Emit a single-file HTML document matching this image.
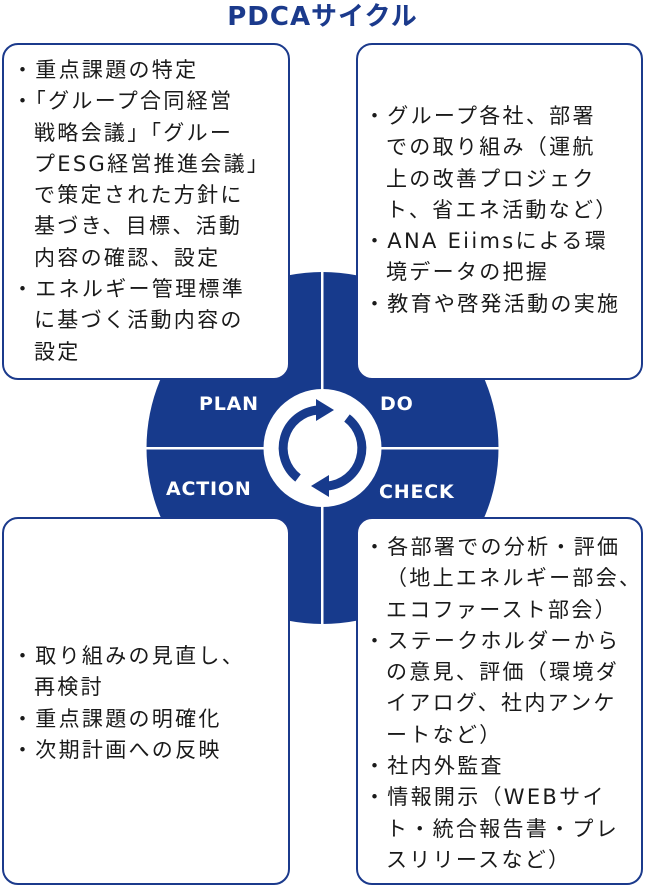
<!DOCTYPE html>
<html><head><meta charset="utf-8"><style>
html,body{margin:0;padding:0;width:645px;height:887px;background:#fff;overflow:hidden;position:relative;}
.box{position:absolute;background:#fff;border:2px solid #1b3a8c;border-radius:16px;box-sizing:border-box;}
.t{position:absolute;font-family:"DejaVu Sans","Noto Sans CJK JP",sans-serif;font-size:21px;letter-spacing:2.3px;line-height:31.3px;color:#1a1a1a;white-space:nowrap;}
.t div{padding-left:22px;text-indent:-22px;}
.lab{position:absolute;font-family:"DejaVu Sans",sans-serif;font-weight:bold;font-size:19px;color:#fff;letter-spacing:0.8px;}
</style></head><body>
<div style="position:absolute;left:0;width:645px;top:-4px;text-align:center;font-family:'DejaVu Sans','Noto Sans CJK JP',sans-serif;font-weight:bold;font-size:26px;color:#1b3a8c;letter-spacing:1px;">PDCAサイクル</div>
<svg style="position:absolute;left:0;top:0" width="645" height="887">
<circle cx="322.5" cy="448" r="176" fill="#173a8c"/>
<rect x="321" y="260" width="2.5" height="380" fill="#fff"/>
<rect x="140" y="447" width="370" height="2.5" fill="#fff"/>
<circle cx="322.5" cy="448" r="59" fill="#fff"/>
<g fill="none" stroke="#173a8c" stroke-width="9">
<path d="M298 478 A38 38 0 0 1 318 410"/>
<path d="M347 418 A38 38 0 0 1 327 486"/>
</g>
<polygon points="316,399 334,410 316,421" fill="#173a8c"/>
<polygon points="329,475 311,486 329,497" fill="#173a8c"/>
</svg>
<div class="box" style="left:2px;top:43px;width:288px;height:337px"></div>
<div class="box" style="left:356px;top:43px;width:287px;height:337px"></div>
<div class="box" style="left:2px;top:517px;width:288px;height:368px"></div>
<div class="box" style="left:356px;top:517px;width:287px;height:368px"></div>
<div class="lab" style="left:199px;top:393px">PLAN</div>
<div class="lab" style="left:380px;top:393px">DO</div>
<div class="lab" style="left:166px;top:478px">ACTION</div>
<div class="lab" style="left:379px;top:481px">CHECK</div>
<div class="t" style="left:12px;top:55px">
<div>・重点課題の特定</div>
<div>・「グループ合同経営<br>戦略会議」「グルー<br>プESG経営推進会議」<br>で策定された方針に<br>基づき、目標、活動<br>内容の確認、設定</div>
<div>・エネルギー管理標準<br>に基づく活動内容の<br>設定</div>
</div>
<div class="t" style="left:364px;top:101px">
<div>・グループ各社、部署<br>での取り組み（運航<br>上の改善プロジェク<br>ト、省エネ活動など）</div>
<div>・ANA Eiimsによる環<br>境データの把握</div>
<div>・教育や啓発活動の実施</div>
</div>
<div class="t" style="left:12px;top:641px">
<div>・取り組みの見直し、<br>再検討</div>
<div>・重点課題の明確化</div>
<div>・次期計画への反映</div>
</div>
<div class="t" style="left:364px;top:532px">
<div>・各部署での分析・評価<br>（地上エネルギー部会、<br>エコファースト部会）</div>
<div>・ステークホルダーから<br>の意見、評価（環境ダ<br>イアログ、社内アンケ<br>ートなど）</div>
<div>・社内外監査</div>
<div>・情報開示（WEBサイ<br>ト・統合報告書・プレ<br>スリリースなど）</div>
</div>
</body></html>
